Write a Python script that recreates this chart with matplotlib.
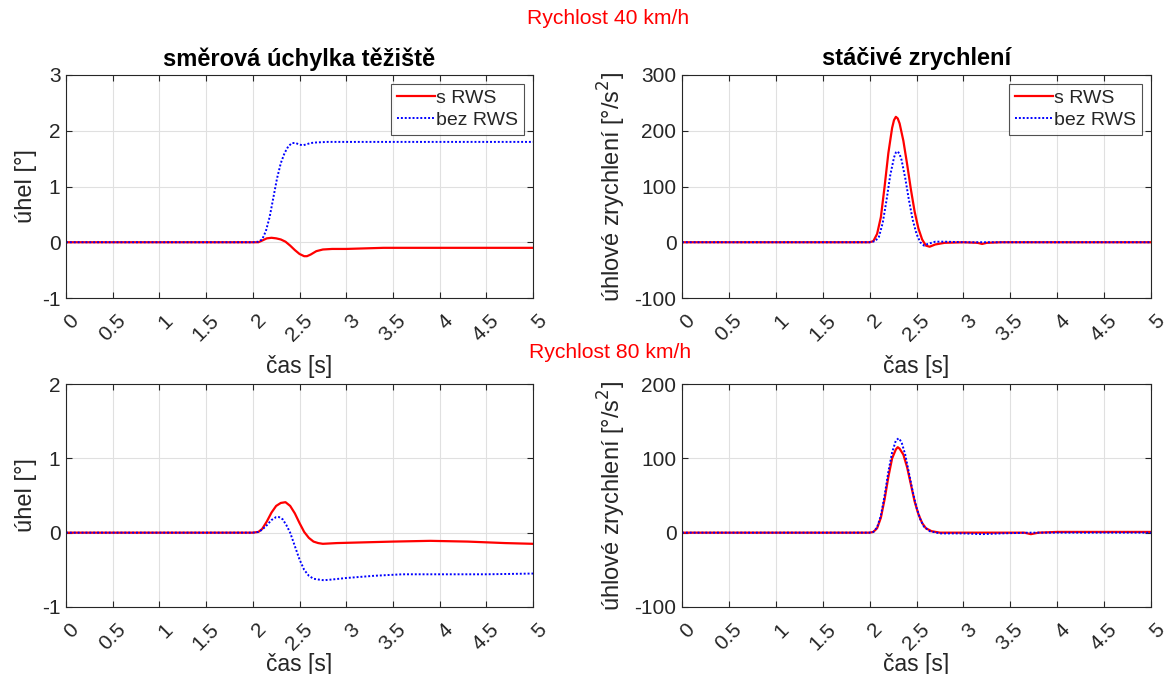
import matplotlib
matplotlib.use("Agg")
import matplotlib.pyplot as plt
from matplotlib.transforms import ScaledTranslation

plt.rcParams['font.family'] = ['Liberation Sans', 'DejaVu Sans']

# ---- data ----
# 40 km/h, lateral deviation [deg]
t_tl_red = [0, 2.0, 2.06, 2.1, 2.15, 2.2, 2.25, 2.3, 2.35, 2.4, 2.45, 2.5, 2.55, 2.58, 2.62, 2.68, 2.75, 2.85, 3.0, 3.2, 3.4, 4.0, 5.0]
y_tl_red = [0, 0, 0.0, 0.03, 0.07, 0.08, 0.07, 0.05, 0.01, -0.06, -0.14, -0.21, -0.25, -0.25, -0.22, -0.16, -0.13, -0.12, -0.12, -0.11, -0.1, -0.1, -0.1]
t_tl_blue = [0, 2.0, 2.06, 2.1, 2.14, 2.18, 2.22, 2.26, 2.30, 2.34, 2.38, 2.42, 2.46, 2.50, 2.54, 2.58, 2.62, 2.68, 2.8, 3.0, 4.0, 5.0]
y_tl_blue = [0, 0, 0.01, 0.05, 0.2, 0.45, 0.8, 1.15, 1.42, 1.6, 1.72, 1.78, 1.78, 1.75, 1.74, 1.76, 1.78, 1.79, 1.8, 1.8, 1.8, 1.8]

# 40 km/h, yaw acceleration [deg/s^2]
t_tr_red = [0, 2.0, 2.04, 2.08, 2.12, 2.16, 2.2, 2.24, 2.26, 2.28, 2.30, 2.32, 2.36, 2.4, 2.44, 2.48, 2.52, 2.56, 2.6, 2.64, 2.7, 2.8, 3.0, 3.15, 3.2, 3.25, 3.4, 5.0]
y_tr_red = [0, 0, 2, 15, 45, 100, 160, 205, 219, 225, 222, 213, 182, 140, 95, 55, 25, 5, -6, -8, -4, -1, 0, -1, -3, -1, 0, 0]
t_tr_blue = [0, 2.0, 2.06, 2.1, 2.14, 2.18, 2.22, 2.26, 2.28, 2.3, 2.32, 2.34, 2.38, 2.42, 2.46, 2.5, 2.54, 2.58, 2.62, 2.7, 2.8, 3.0, 5.0]
y_tr_blue = [0, 0, 2, 10, 35, 75, 120, 152, 161, 163, 158, 148, 115, 75, 40, 15, 0, -6, -3, 1, 1, 0, 0]

# 80 km/h, lateral deviation [deg]
t_bl_red = [0, 2.0, 2.06, 2.1, 2.15, 2.2, 2.25, 2.3, 2.35, 2.4, 2.45, 2.5, 2.55, 2.6, 2.65, 2.7, 2.75, 2.9, 3.2, 3.5, 3.9, 4.3, 4.7, 5.0]
y_bl_red = [0, 0, 0.01, 0.05, 0.15, 0.27, 0.36, 0.40, 0.41, 0.36, 0.26, 0.13, 0.01, -0.07, -0.12, -0.14, -0.15, -0.14, -0.13, -0.12, -0.11, -0.12, -0.14, -0.15]
t_bl_blue = [0, 2.0, 2.06, 2.1, 2.15, 2.2, 2.25, 2.28, 2.32, 2.36, 2.4, 2.45, 2.5, 2.55, 2.6, 2.65, 2.7, 2.76, 2.85, 3.0, 3.3, 3.6, 4.0, 4.5, 5.0]
y_bl_blue = [0, 0, 0.01, 0.04, 0.1, 0.17, 0.21, 0.21, 0.18, 0.1, 0.0, -0.18, -0.36, -0.5, -0.58, -0.62, -0.63, -0.64, -0.63, -0.61, -0.58, -0.56, -0.56, -0.56, -0.55]

# 80 km/h, yaw acceleration [deg/s^2]
t_br_red = [0, 2.0, 2.04, 2.08, 2.12, 2.16, 2.2, 2.24, 2.28, 2.30, 2.32, 2.36, 2.4, 2.44, 2.48, 2.52, 2.56, 2.6, 2.66, 2.75, 3.0, 3.65, 3.72, 3.8, 4.0, 5.0]
y_br_red = [0, 0, 1, 6, 20, 45, 75, 100, 112, 115, 113, 105, 88, 65, 42, 25, 13, 6, 2, 0, 0, 0, -2, 0, 1, 1]
t_br_blue = [0, 2.0, 2.04, 2.08, 2.12, 2.16, 2.2, 2.24, 2.28, 2.31, 2.34, 2.38, 2.42, 2.46, 2.5, 2.54, 2.58, 2.64, 2.75, 3.0, 3.2, 3.4, 3.7, 4.0, 5.0]
y_br_blue = [0, 0, 1, 7, 23, 50, 82, 108, 124, 127, 122, 105, 80, 55, 34, 18, 8, 2, -1, -1, -2, -1, 0, 0, 0]

x_ticks = [0, 0.5, 1, 1.5, 2, 2.5, 3, 3.5, 4, 4.5, 5]
x_ticklabels = ['0', '0.5', '1', '1.5', '2', '2.5', '3', '3.5', '4', '4.5', '5']
series_labels = ['s RWS', 'bez RWS']
titles = ['směrová úchylka těžiště', 'stáčivé zrychlení']
ylabel_angle = 'úhel [°]'
ylabel_acc = 'úhlové zrychlení [°/s$^2$]'
xlabel = 'čas [s]'
speed_labels = ['Rychlost 40 km/h', 'Rychlost 80 km/h']

# ---- figure ----
W, H = 1165, 674
fig = plt.figure(figsize=(W / 100, H / 100), dpi=100)

def frac_box(x0, x1, ytop, ybot):
    return [x0 / W, 1 - ybot / H, (x1 - x0) / W, (ybot - ytop) / H]

ax_tl = fig.add_axes(frac_box(66, 533, 75, 298))
ax_tr = fig.add_axes(frac_box(682, 1151, 75, 298))
ax_bl = fig.add_axes(frac_box(66, 533, 384, 607))
ax_br = fig.add_axes(frac_box(682, 1151, 384, 607))

dark = '#262626'
tick_fs = 15
AX_H = 223.0

def style(ax, ylim, yticks, xlabel_center_px):
    ax.set_xlim(0, 5)
    ax.set_ylim(*ylim)
    ax.set_xticks(x_ticks)
    ax.set_xticklabels(x_ticklabels, rotation=45, ha='right', va='center',
                       rotation_mode='anchor')
    ax.set_yticks(yticks)
    ax.set_yticklabels([str(v) for v in yticks])
    ax.grid(True, color='#e0e0e0', linewidth=0.8)
    ax.set_axisbelow(True)
    ax.tick_params(direction='in', length=4, width=0.8, colors=dark, labelsize=tick_fs,
                   top=True, right=True, pad=4)
    ax.tick_params(axis='x', pad=14)
    off = ScaledTranslation(0.10, 0, fig.dpi_scale_trans)
    for lab in ax.get_xticklabels():
        lab.set_transform(lab.get_transform() + off)
    for s in ax.spines.values():
        s.set_color(dark)
        s.set_linewidth(0.8)
    ax.set_xlabel(xlabel, fontsize=16.5, color=dark)
    ax.xaxis.set_label_coords(0.5, -xlabel_center_px / AX_H)
    ax.xaxis.label.set_va('center')

def draw(ax, tr, yr, tb, yb):
    ax.plot(tr, yr, color='red', linewidth=1.6, label=series_labels[0])
    ax.plot(tb, yb, color='blue', linestyle=(0, (1, 1)), linewidth=1.4, label=series_labels[1])

draw(ax_tl, t_tl_red, y_tl_red, t_tl_blue, y_tl_blue)
draw(ax_tr, t_tr_red, y_tr_red, t_tr_blue, y_tr_blue)
draw(ax_bl, t_bl_red, y_bl_red, t_bl_blue, y_bl_blue)
draw(ax_br, t_br_red, y_br_red, t_br_blue, y_br_blue)

style(ax_tl, (-1, 3), [-1, 0, 1, 2, 3], 68)
style(ax_tr, (-100, 300), [-100, 0, 100, 200, 300], 68)
style(ax_bl, (-1, 2), [-1, 0, 1, 2], 57)
style(ax_br, (-100, 200), [-100, 0, 100, 200], 57)

for ax in (ax_tl, ax_bl):
    ax.set_ylabel(ylabel_angle, fontsize=17, color=dark)
    ax.yaxis.set_label_coords((26 - 66) / 467.0, 0.5)
    ax.yaxis.label.set_va('center')
for ax in (ax_tr, ax_br):
    ax.set_ylabel(ylabel_acc, fontsize=17, color=dark)
    ax.yaxis.set_label_coords((612 - 682) / 469.0, 0.5)
    ax.yaxis.label.set_va('center')

for ax, ttl in ((ax_tl, titles[0]), (ax_tr, titles[1])):
    ax.text(0.5, 1 + (75 - 59) / AX_H, ttl, transform=ax.transAxes, fontsize=17,
            fontweight='bold', ha='center', va='center', color='black')

for ax in (ax_tl, ax_tr):
    leg = ax.legend(loc='upper right', fontsize=14, frameon=True, fancybox=False,
                    borderaxespad=0.45, handlelength=2.0, handletextpad=0.05,
                    borderpad=0.3, labelspacing=0.2)
    leg.get_frame().set_edgecolor(dark)
    leg.get_frame().set_linewidth(0.8)
    for txt in leg.get_texts():
        txt.set_color(dark)

fig.text(608 / W, 1 - 18 / H, speed_labels[0], color='red', fontsize=15.2, ha='center', va='center')
fig.text(610 / W, 1 - 352 / H, speed_labels[1], color='red', fontsize=15.2, ha='center', va='center')

fig.savefig('out.png', dpi=100)
